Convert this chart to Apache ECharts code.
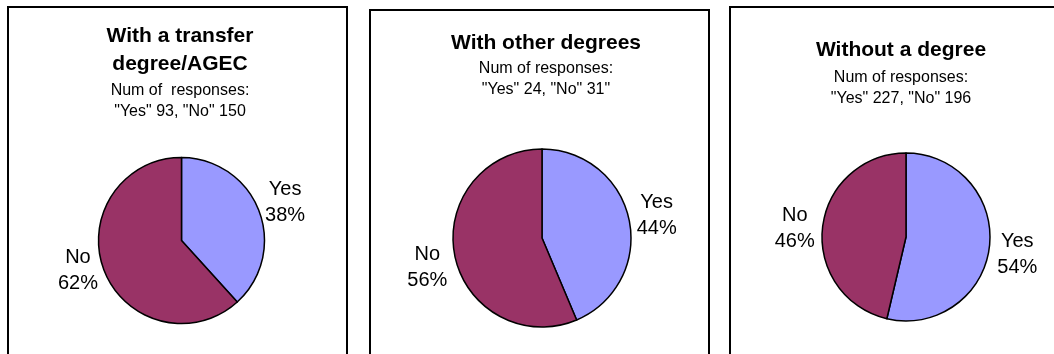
<!DOCTYPE html>
<html>
<head>
<meta charset="utf-8">
<script src="https://cdn.jsdelivr.net/npm/echarts@6/dist/echarts.min.js"></script>
<style>
  html, body { margin: 0; padding: 0; background: #fff; }
  #chart { width: 1054px; height: 354px; }
</style>
</head>
<body>
<div id="chart"></div>
<script>
  // chart data
  const groupTitles = ['With a transfer\ndegree/AGEC', 'With other degrees', 'Without a degree'];
  const responseNotes = [
    'Num of  responses:\n"Yes" 93, "No" 150',
    'Num of responses:\n"Yes" 24, "No" 31"',
    'Num of responses:\n"Yes" 227, "No" 196'
  ];
  const answers = ['Yes', 'No'];
  const yesCounts = [93, 24, 227];
  const noCounts = [150, 31, 196];

  // layout of the three panels
  const panelBoxes = [[8, 7], [370, 10], [730, 7]];
  const titleCenters = [180, 546, 901];
  const titleTops = [22, 29, 36];
  const titleGaps = [2.5, 1, 3];
  const pieCenters = [[181.5, 240.5], [542, 238], [906, 237]];
  const pieRadius = [83, 89, 84];
  // small vertical nudges for the Yes / No labels of each pie
  const labelNudges = [[2, -10], [1, 6], [5, 4]];

  const font = '"Liberation Sans", Arial, sans-serif';

  const title = groupTitles.map((t, i) => ({
    text: t,
    subtext: responseNotes[i],
    left: titleCenters[i],
    top: titleTops[i],
    textAlign: 'center',
    textVerticalAlign: 'top',
    padding: 0,
    itemGap: titleGaps[i],
    textStyle: { fontFamily: font, fontSize: 21, fontWeight: 'bold', color: '#000', lineHeight: 28 },
    subtextStyle: { fontFamily: font, fontSize: 16, color: '#000', lineHeight: 21 }
  }))

  const series = groupTitles.map((t, i) => ({
    type: 'pie',
    center: pieCenters[i],
    radius: pieRadius[i],
    startAngle: 90,
    clockwise: true,
    percentPrecision: 0,
    avoidLabelOverlap: false,
    silent: true,
    animation: false,
    color: ['#9999FF', '#993366'],
    itemStyle: { borderColor: '#000', borderWidth: 1.5 },
    label: {
      position: 'outside',
      formatter: '{c|{b}}\n{c|{d}%}',
      distanceToLabelLine: 5,
      rich: {
        c: { fontFamily: font, fontSize: 20, color: '#000', lineHeight: 26, align: 'center' }
      }
    },
    labelLine: { show: false, length: 28, length2: -25 },
    labelLayout: p => ({ dy: labelNudges[i][p.dataIndex] }),
    emphasis: { disabled: true },
    data: [
      { name: answers[0], value: yesCounts[i] },
      { name: answers[1], value: noCounts[i] }
    ]
  }))

  const graphic = panelBoxes.map(b => ({
    type: 'rect',
    shape: { x: b[0], y: b[1], width: 339, height: 400 },
    style: { fill: null, stroke: '#000', lineWidth: 2 },
    silent: true
  }))

  const chart = echarts.init(document.getElementById('chart'))
  chart.setOption({
    backgroundColor: '#fff',
    animation: false,
    title,
    graphic,
    series
  })
</script>
</body>
</html>
